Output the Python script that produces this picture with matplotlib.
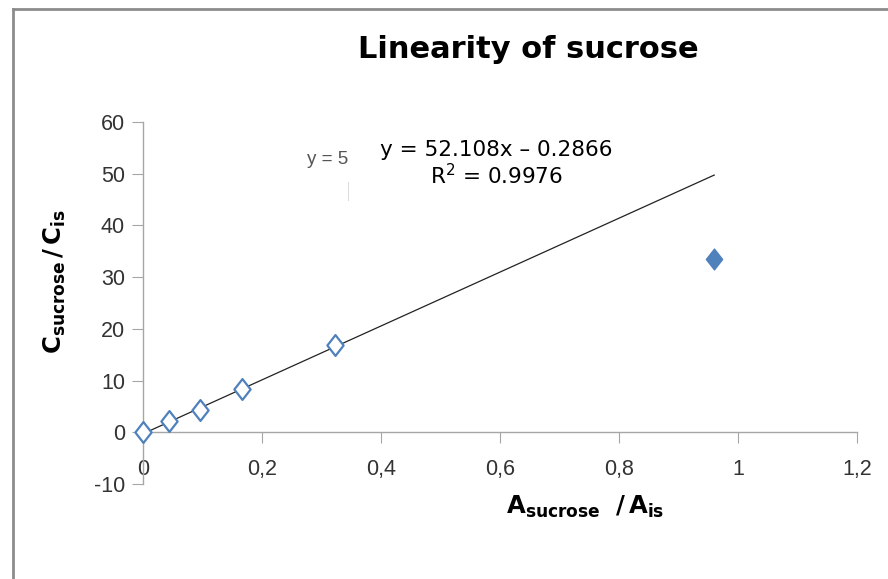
import numpy as np
import matplotlib.pyplot as plt
from matplotlib.lines import Line2D
from matplotlib.path import Path

# data
x_vals = [0.0, 0.044, 0.096, 0.167, 0.322]
y_vals = [0.0, 2.1, 4.4, 8.4, 16.8]
outlier_x = [0.96]
outlier_y = [33.6]
slope = 52.108
intercept = -0.2866
fit_x = [0.0, 0.96]

x_ticks = [0, 0.2, 0.4, 0.6, 0.8, 1.0, 1.2]
x_tick_labels = ['0', '0,2', '0,4', '0,6', '0,8', '1', '1,2']
y_ticks = [-10, 0, 10, 20, 30, 40, 50, 60]

blue = '#4f81bd'
tick_font = ['Liberation Sans', 'DejaVu Sans']

fig = plt.figure(figsize=(8.88, 5.79), dpi=100)
ax = fig.add_axes([143 / 888, 1 - 484 / 579, (857 - 143) / 888, (484 - 122) / 579])

diamond = Path([(0, 1), (0.78, 0), (0, -1), (-0.78, 0), (0, 1)],
               [Path.MOVETO, Path.LINETO, Path.LINETO, Path.LINETO, Path.CLOSEPOLY])

fit_y = [slope * v + intercept for v in fit_x]
ax.plot(fit_x, fit_y, color='#222222', linewidth=0.9, zorder=2)
ax.plot(x_vals, y_vals, linestyle='none', marker=diamond, markersize=15,
        markerfacecolor='white', markeredgecolor=blue, markeredgewidth=1.6,
        zorder=3, clip_on=False)
ax.plot(outlier_x, outlier_y, linestyle='none', marker=diamond, markersize=15,
        markerfacecolor=blue, markeredgecolor=blue, zorder=3)

ax.set_xlim(0, 1.2)
ax.set_ylim(-10, 60)
ax.spines['top'].set_visible(False)
ax.spines['right'].set_visible(False)
ax.spines['bottom'].set_position(('data', 0))
for s in ('left', 'bottom'):
    ax.spines[s].set_color('#a6a6a6')
    ax.spines[s].set_linewidth(1.0)

ax.set_xticks(x_ticks)
ax.set_xticklabels(x_tick_labels, family=tick_font, fontsize=15.5, color='#333333')
ax.set_yticks(y_ticks)
ax.set_yticklabels([str(v) for v in y_ticks], family=tick_font, fontsize=15.5, color='#333333')
ax.tick_params(axis='x', direction='out', length=8, color='#a6a6a6', pad=11)
ax.tick_params(axis='y', direction='out', length=8, color='#a6a6a6', pad=5)

fig.text(528 / 888, 1 - 50 / 579, 'Linearity of sucrose', ha='center', va='center',
         fontsize=22, fontweight='bold')
fig.text(585 / 888, 1 - 507 / 579, r'$\mathbf{A_{sucrose}\ \ /\,A_{is}}$',
         ha='center', va='center', fontsize=17.5)
fig.text(55 / 888, 1 - 282 / 579, r'$\mathbf{C_{sucrose}\,/\,C_{is}}$',
         ha='center', va='center', fontsize=17.5, rotation=90)

fig.text(328 / 888, 1 - 160 / 579, 'y = 5', ha='center', va='center',
         fontsize=13.5, family=tick_font, color='#555555')
fig.add_artist(Line2D([348 / 888, 348 / 888], [1 - 182 / 579, 1 - 200 / 579],
                      color='#dddddd', linewidth=0.8))
fig.text(496 / 888, 1 - 150 / 579, 'y = 52.108x \u2013 0.2866', ha='center', va='center',
         fontsize=15.5)
fig.text(496 / 888, 1 - 176 / 579, r'R$^2$ = 0.9976', ha='center', va='center',
         fontsize=15.5)

# chart border (left and top visible)
fig.add_artist(Line2D([12.5 / 888, 12.5 / 888], [0, 1 - 9 / 579], color='#8c8c8c', linewidth=2))
fig.add_artist(Line2D([12.5 / 888, 1], [1 - 9 / 579, 1 - 9 / 579], color='#8c8c8c', linewidth=2))

fig.savefig('out.png', dpi=100)
